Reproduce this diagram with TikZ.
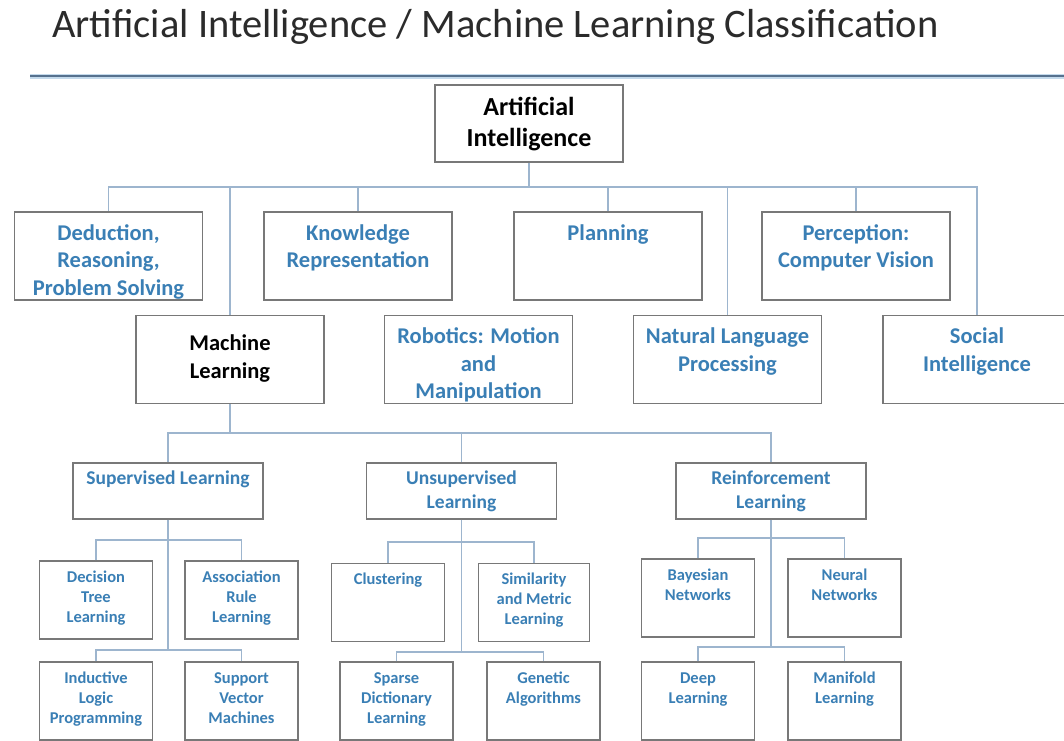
\documentclass[tikz,border=0pt]{standalone}
\usepackage{fontspec}
\setmainfont{Carlito}
\usepackage{xcolor}
\usepackage{tikz}
\definecolor{title_gray}{HTML}{2B2B2B}
\definecolor{ml_blue}{HTML}{3A7FB5}
\definecolor{box_gray}{HTML}{787878}
\definecolor{link_blue}{HTML}{9DB5CE}
\definecolor{rule_blue}{HTML}{56718E}
\definecolor{rule_glow}{HTML}{C4DAEC}

% fixed size cell, text starts at the top
\newcommand{\celltext}[4]{\parbox[c][#2][t]{#1}{\centering\vspace*{#3}\strut#4\par}}

\begin{document}
\begin{tikzpicture}[x=1pt, y=-1pt,
  box/.style={draw=box_gray, line width=1.3pt, inner sep=0pt, text=ml_blue,
    font=\fontsize{22.5}{27.5}\selectfont\bfseries},
  midbox/.style={box, font=\fontsize{19.5}{24}\selectfont\bfseries},
  leafbox/.style={box, font=\fontsize{16.5}{20}\selectfont\bfseries},
  link/.style={draw=link_blue, line width=1.5pt}]

  \fill[white] (0,0) rectangle (1064,740);
  \useasboundingbox (0,0) rectangle (1064,740);

  \node[anchor=base west, inner sep=0pt, text=title_gray, font=\fontsize{40.5}{48}\selectfont]
    (title) at (52,37) {Artificial Intelligence / Machine Learning Classification};
  \draw[rule_glow, line width=5pt] (30,76) -- (1064,76);
  \draw[rule_blue, line width=2.4pt] (30,76) -- (1064,76);

  % top level
  \node[box, text=black, font=\fontsize{26}{31}\selectfont\bfseries] (ai) at (529,123.5)
    {\celltext{188pt}{77pt}{8.7pt}{Artificial\\ Intelligence}};

  % first row
  \node[box] (ded) at (108.5,256) {\celltext{188pt}{88pt}{9pt}{Deduction,\\ Reasoning,\\ Problem Solving}};
  \node[box] (know) at (358,256) {\celltext{188pt}{88pt}{9pt}{Knowledge\\ Representation}};
  \node[box] (plan) at (608,256) {\celltext{188pt}{88pt}{9pt}{Planning}};
  \node[box] (perc) at (856,256) {\celltext{188pt}{88pt}{9pt}{Perception:\\ Computer Vision}};

  % second row
  \node[box, text=black] (ml) at (230,359.5) {\celltext{188pt}{88pt}{16pt}{Machine\\ Learning}};
  \node[box] (robo) at (478.5,359.5) {\celltext{188pt}{88pt}{9pt}{Robotics: Motion\\ and\\ Manipulation}};
  \node[box] (nlp) at (727.5,359.5) {\celltext{188pt}{88pt}{9pt}{Natural Language\\ Processing}};
  \node[box] (soc) at (977,359.5) {\celltext{188pt}{88pt}{9pt}{Social\\ Intelligence}};

  % learning types
  \node[midbox] (sup) at (168,491) {\celltext{190pt}{56pt}{4.5pt}{Supervised Learning}};
  \node[midbox] (uns) at (461.5,491) {\celltext{190pt}{56pt}{4.5pt}{Unsupervised\\ Learning}};
  \node[midbox] (rei) at (771,491) {\celltext{190pt}{56pt}{4.5pt}{Reinforcement\\ Learning}};

  % methods
  \node[leafbox] (dtl) at (96,600) {\celltext{113pt}{78pt}{7pt}{Decision\\ Tree\\ Learning}};
  \node[leafbox] (arl) at (241.5,600) {\celltext{113pt}{78pt}{7pt}{Association\\ Rule\\ Learning}};
  \node[leafbox] (ilp) at (96,701) {\celltext{113pt}{78pt}{7pt}{Inductive\\ Logic\\ Programming}};
  \node[leafbox] (svm) at (241.5,701) {\celltext{113pt}{78pt}{7pt}{Support\\ Vector\\ Machines}};

  \node[leafbox] (clu) at (388,602.5) {\celltext{113pt}{78pt}{7pt}{Clustering}};
  \node[leafbox] (sim) at (534,602.5) {\celltext{111pt}{78pt}{7pt}{Similarity\\ and Metric\\ Learning}};
  \node[leafbox] (sdl) at (396.5,701) {\celltext{113pt}{78pt}{7pt}{Sparse\\ Dictionary\\ Learning}};
  \node[leafbox] (gen) at (543.5,701) {\celltext{113pt}{78pt}{7pt}{Genetic\\ Algorithms}};

  \node[leafbox] (bay) at (698,598) {\celltext{113pt}{78pt}{7pt}{Bayesian\\ Networks}};
  \node[leafbox] (neu) at (844.5,598) {\celltext{113pt}{78pt}{7pt}{Neural\\ Networks}};
  \node[leafbox] (dee) at (698,701) {\celltext{113pt}{78pt}{7pt}{Deep\\ Learning}};
  \node[leafbox] (man) at (844.5,701) {\celltext{113pt}{78pt}{7pt}{Manifold\\ Learning}};

  % bus lines
  \coordinate (aibus) at (529,187);
  \coordinate (mlbus) at (230,433);
  \coordinate (supa) at (168,540);
  \coordinate (supb) at (168,650);
  \coordinate (unsa) at (461.5,542);
  \coordinate (unsb) at (461.5,652);
  \coordinate (reia) at (771,538);
  \coordinate (reib) at (771,647);

  \draw[link] (ai.south) -- (aibus);
  \draw[link] (aibus) -| (ded.north);
  \draw[link] (aibus) -| (ml.north);
  \draw[link] (aibus) -| (know.north);
  \draw[link] (aibus) -| (plan.north);
  \draw[link] (aibus) -| (nlp.north);
  \draw[link] (aibus) -| (perc.north);
  \draw[link] (aibus) -| (soc.north);

  \draw[link] (ml.south) -- (mlbus);
  \draw[link] (mlbus) -| (sup.north);
  \draw[link] (mlbus) -| (uns.north);
  \draw[link] (mlbus) -| (rei.north);

  \draw[link] (sup.south) -- (supb);
  \draw[link] (dtl.north) |- (supa) -| (arl.north);
  \draw[link] (ilp.north) |- (supb) -| (svm.north);

  \draw[link] (uns.south) -- (unsb);
  \draw[link] (clu.north) |- (unsa) -| (sim.north);
  \draw[link] (sdl.north) |- (unsb) -| (gen.north);

  \draw[link] (rei.south) -- (reib);
  \draw[link] (bay.north) |- (reia) -| (neu.north);
  \draw[link] (dee.north) |- (reib) -| (man.north);

\end{tikzpicture}
\end{document}
